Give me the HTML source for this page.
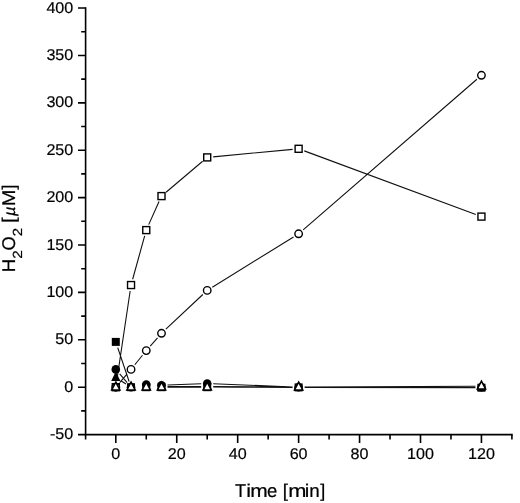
<!DOCTYPE html>
<html><head><meta charset="utf-8"><style>
html,body{margin:0;padding:0;background:#fff;width:520px;height:503px;overflow:hidden}
svg{display:block;filter:grayscale(1)}
text{font-family:"Liberation Sans",sans-serif;fill:#000;text-rendering:geometricPrecision}
</style></head><body>
<svg width="520" height="503" viewBox="0 0 520 503">
<path d="M85.60 8.04V434.59H511.91" fill="none" stroke="#000" stroke-width="1.6" stroke-linecap="square"/>
<path d="M85.60 434.59h-7.6M85.60 410.90h-4.4M85.60 387.20h-7.6M85.60 363.50h-4.4M85.60 339.81h-7.6M85.60 316.11h-4.4M85.60 292.41h-7.6M85.60 268.71h-4.4M85.60 245.01h-7.6M85.60 221.32h-4.4M85.60 197.62h-7.6M85.60 173.92h-4.4M85.60 150.22h-7.6M85.60 126.53h-4.4M85.60 102.83h-7.6M85.60 79.13h-4.4M85.60 55.44h-7.6M85.60 31.74h-4.4M85.60 8.04h-7.6M85.60 434.59v4.8M115.80 434.59v8.4M146.27 434.59v4.8M176.74 434.59v8.4M207.21 434.59v4.8M237.68 434.59v8.4M268.15 434.59v4.8M298.62 434.59v8.4M329.09 434.59v4.8M359.56 434.59v8.4M390.03 434.59v4.8M420.50 434.59v8.4M450.97 434.59v4.8M481.44 434.59v8.4M511.91 434.59v4.8" stroke="#000" stroke-width="1.6"/>
<text transform="translate(73.3,439.09) scale(1.04,1)" text-anchor="end" font-size="15.5" stroke="#000" stroke-width="0.2">-50</text>
<text transform="translate(73.3,391.70) scale(1.04,1)" text-anchor="end" font-size="15.5" stroke="#000" stroke-width="0.2">0</text>
<text transform="translate(73.3,344.31) scale(1.04,1)" text-anchor="end" font-size="15.5" stroke="#000" stroke-width="0.2">50</text>
<text transform="translate(73.3,296.91) scale(1.04,1)" text-anchor="end" font-size="15.5" stroke="#000" stroke-width="0.2">100</text>
<text transform="translate(73.3,249.51) scale(1.04,1)" text-anchor="end" font-size="15.5" stroke="#000" stroke-width="0.2">150</text>
<text transform="translate(73.3,202.12) scale(1.04,1)" text-anchor="end" font-size="15.5" stroke="#000" stroke-width="0.2">200</text>
<text transform="translate(73.3,154.72) scale(1.04,1)" text-anchor="end" font-size="15.5" stroke="#000" stroke-width="0.2">250</text>
<text transform="translate(73.3,107.33) scale(1.04,1)" text-anchor="end" font-size="15.5" stroke="#000" stroke-width="0.2">300</text>
<text transform="translate(73.3,59.94) scale(1.04,1)" text-anchor="end" font-size="15.5" stroke="#000" stroke-width="0.2">350</text>
<text transform="translate(73.3,12.54) scale(1.04,1)" text-anchor="end" font-size="15.5" stroke="#000" stroke-width="0.2">400</text>
<text transform="translate(115.80,459.3) scale(1.04,1)" text-anchor="middle" font-size="15.5" stroke="#000" stroke-width="0.2">0</text>
<text transform="translate(176.74,459.3) scale(1.04,1)" text-anchor="middle" font-size="15.5" stroke="#000" stroke-width="0.2">20</text>
<text transform="translate(237.68,459.3) scale(1.04,1)" text-anchor="middle" font-size="15.5" stroke="#000" stroke-width="0.2">40</text>
<text transform="translate(298.62,459.3) scale(1.04,1)" text-anchor="middle" font-size="15.5" stroke="#000" stroke-width="0.2">60</text>
<text transform="translate(359.56,459.3) scale(1.04,1)" text-anchor="middle" font-size="15.5" stroke="#000" stroke-width="0.2">80</text>
<text transform="translate(420.50,459.3) scale(1.04,1)" text-anchor="middle" font-size="15.5" stroke="#000" stroke-width="0.2">100</text>
<text transform="translate(481.44,459.3) scale(1.04,1)" text-anchor="middle" font-size="15.5" stroke="#000" stroke-width="0.2">120</text>
<text transform="translate(234.89,497.2) scale(0.990,1)" font-size="18.4" stroke="#000" stroke-width="0.22">T</text>
<text transform="translate(246.25,497.2) scale(1.175,1)" font-size="18.4" stroke="#000" stroke-width="0.22">i</text>
<text transform="translate(250.21,497.2) scale(1.140,1)" font-size="18.4" stroke="#000" stroke-width="0.22">m</text>
<text transform="translate(267.11,497.2) scale(1.008,1)" font-size="18.4" stroke="#000" stroke-width="0.22">e</text>
<text transform="translate(282.87,497.2) scale(1.012,1)" font-size="18.4" stroke="#000" stroke-width="0.22">[</text>
<text transform="translate(288.15,497.2) scale(1.187,1)" font-size="18.4" stroke="#000" stroke-width="0.22">m</text>
<text transform="translate(304.83,497.2) scale(1.113,1)" font-size="18.4" stroke="#000" stroke-width="0.22">i</text>
<text transform="translate(309.35,497.2) scale(1.023,1)" font-size="18.4" stroke="#000" stroke-width="0.22">n</text>
<text transform="translate(320.16,497.2) scale(0.985,1)" font-size="18.4" stroke="#000" stroke-width="0.22">]</text>
<text transform="translate(14.9,0) rotate(-90) translate(-272.13,0) scale(1.012,1)" font-size="18.4" stroke="#000" stroke-width="0.22">H</text>
<text transform="translate(21.6,0) rotate(-90) translate(-258.87,0) scale(1.164,1)" font-size="13.2" stroke="#000" stroke-width="0.22">2</text>
<text transform="translate(14.9,0) rotate(-90) translate(-250.57,0) scale(0.995,1)" font-size="18.4" stroke="#000" stroke-width="0.22">O</text>
<text transform="translate(21.6,0) rotate(-90) translate(-236.15,0) scale(1.131,1)" font-size="13.2" stroke="#000" stroke-width="0.22">2</text>
<text transform="translate(14.9,0) rotate(-90) translate(-222.66,0) scale(1.039,1)" font-size="18.4" stroke="#000" stroke-width="0.22">[</text>
<text transform="translate(14.9,0) rotate(-90) translate(-215.89,0) scale(1.030,1)" font-size="16.0" font-style="italic" stroke="#000" stroke-width="0.22">µ</text>
<text transform="translate(14.9,0) rotate(-90) translate(-206.24,0) scale(1.089,1)" font-size="18.4" stroke="#000" stroke-width="0.22">M</text>
<text transform="translate(14.9,0) rotate(-90) translate(-189.65,0) scale(1.012,1)" font-size="18.4" stroke="#000" stroke-width="0.22">]</text>
<path d="M117.71 347.59L129.12 381.51M167.50 387.20L201.21 387.20M213.21 387.21L292.62 387.39M304.62 387.41L475.44 387.69M119.70 373.96L127.13 382.64M167.50 384.98L201.21 383.72M213.21 383.74L292.62 386.96M304.62 387.20L475.44 387.20M120.86 380.72L125.97 383.98M167.50 386.57L201.21 386.43M213.21 386.45L292.62 387.15M304.62 387.20L475.44 387.20M167.50 387.20L201.21 387.20M213.21 387.20L292.62 387.20M304.62 387.17L475.44 386.23M116.69 381.27L130.15 290.98M132.64 279.27L144.67 235.88M148.72 224.62L159.05 201.58M166.08 192.22L202.63 161.28M213.18 156.84L292.65 149.36M304.25 150.89L475.81 214.51M119.70 382.64L127.13 373.96M134.81 364.74L142.49 355.26M150.24 346.10L157.54 337.80M165.88 329.19L202.84 294.51M212.31 287.24L293.52 236.96M303.15 229.87L476.91 79.23" fill="none" stroke="#111" stroke-width="1.1"/>
<rect x="111.80" y="337.90" width="8.0" height="8.0" fill="#000"/>
<rect x="127.03" y="383.20" width="8.0" height="8.0" fill="#000"/>
<rect x="142.27" y="383.20" width="8.0" height="8.0" fill="#000"/>
<rect x="157.50" y="383.20" width="8.0" height="8.0" fill="#000"/>
<rect x="203.21" y="383.20" width="8.0" height="8.0" fill="#000"/>
<rect x="294.62" y="383.40" width="8.0" height="8.0" fill="#000"/>
<rect x="477.44" y="383.70" width="8.0" height="8.0" fill="#000"/>
<circle cx="115.80" cy="369.40" r="4.3" fill="#000"/>
<circle cx="131.03" cy="387.20" r="4.3" fill="#000"/>
<circle cx="146.27" cy="384.60" r="4.3" fill="#000"/>
<circle cx="161.50" cy="385.20" r="4.3" fill="#000"/>
<circle cx="207.21" cy="383.50" r="4.3" fill="#000"/>
<circle cx="298.62" cy="387.20" r="4.3" fill="#000"/>
<circle cx="481.44" cy="387.20" r="4.3" fill="#000"/>
<polygon points="115.80,371.60 120.40,381.10 111.20,381.10" fill="#000"/>
<polygon points="131.03,381.30 135.63,390.80 126.44,390.80" fill="#000"/>
<polygon points="146.27,380.70 150.87,390.20 141.67,390.20" fill="#000"/>
<polygon points="161.50,380.70 166.10,390.20 156.91,390.20" fill="#000"/>
<polygon points="207.21,380.50 211.81,390.00 202.61,390.00" fill="#000"/>
<polygon points="298.62,381.30 303.22,390.80 294.02,390.80" fill="#000"/>
<polygon points="481.44,381.30 486.04,390.80 476.84,390.80" fill="#000"/>
<rect x="112.30" y="383.70" width="7.00" height="7.00" fill="#fff" stroke="#000" stroke-width="1.4"/>
<rect x="127.53" y="281.55" width="7.00" height="7.00" fill="#fff" stroke="#000" stroke-width="1.4"/>
<rect x="142.77" y="226.60" width="7.00" height="7.00" fill="#fff" stroke="#000" stroke-width="1.4"/>
<rect x="158.00" y="192.60" width="7.00" height="7.00" fill="#fff" stroke="#000" stroke-width="1.4"/>
<rect x="203.71" y="153.90" width="7.00" height="7.00" fill="#fff" stroke="#000" stroke-width="1.4"/>
<rect x="295.12" y="145.30" width="7.00" height="7.00" fill="#fff" stroke="#000" stroke-width="1.4"/>
<rect x="477.94" y="213.10" width="7.00" height="7.00" fill="#fff" stroke="#000" stroke-width="1.4"/>
<circle cx="115.80" cy="387.20" r="3.75" fill="#fff" stroke="#000" stroke-width="1.4"/>
<circle cx="131.03" cy="369.40" r="3.75" fill="#fff" stroke="#000" stroke-width="1.4"/>
<circle cx="146.27" cy="350.60" r="3.75" fill="#fff" stroke="#000" stroke-width="1.4"/>
<circle cx="161.50" cy="333.30" r="3.75" fill="#fff" stroke="#000" stroke-width="1.4"/>
<circle cx="207.21" cy="290.40" r="3.75" fill="#fff" stroke="#000" stroke-width="1.4"/>
<circle cx="298.62" cy="233.80" r="3.75" fill="#fff" stroke="#000" stroke-width="1.4"/>
<circle cx="481.44" cy="75.30" r="3.75" fill="#fff" stroke="#000" stroke-width="1.4"/>
<polygon points="115.80,382.20 119.90,390.00 111.70,390.00" fill="#fff" stroke="#000" stroke-width="1.6" stroke-linejoin="miter" stroke-miterlimit="10"/>
<polygon points="131.03,382.20 135.13,390.00 126.94,390.00" fill="#fff" stroke="#000" stroke-width="1.6" stroke-linejoin="miter" stroke-miterlimit="10"/>
<polygon points="146.27,382.20 150.37,390.00 142.17,390.00" fill="#fff" stroke="#000" stroke-width="1.6" stroke-linejoin="miter" stroke-miterlimit="10"/>
<polygon points="161.50,382.20 165.60,390.00 157.41,390.00" fill="#fff" stroke="#000" stroke-width="1.6" stroke-linejoin="miter" stroke-miterlimit="10"/>
<polygon points="207.21,382.20 211.31,390.00 203.11,390.00" fill="#fff" stroke="#000" stroke-width="1.6" stroke-linejoin="miter" stroke-miterlimit="10"/>
<polygon points="298.62,382.20 302.72,390.00 294.52,390.00" fill="#fff" stroke="#000" stroke-width="1.6" stroke-linejoin="miter" stroke-miterlimit="10"/>
<polygon points="481.44,381.20 485.54,389.00 477.34,389.00" fill="#fff" stroke="#000" stroke-width="1.6" stroke-linejoin="miter" stroke-miterlimit="10"/>
</svg>
</body></html>
